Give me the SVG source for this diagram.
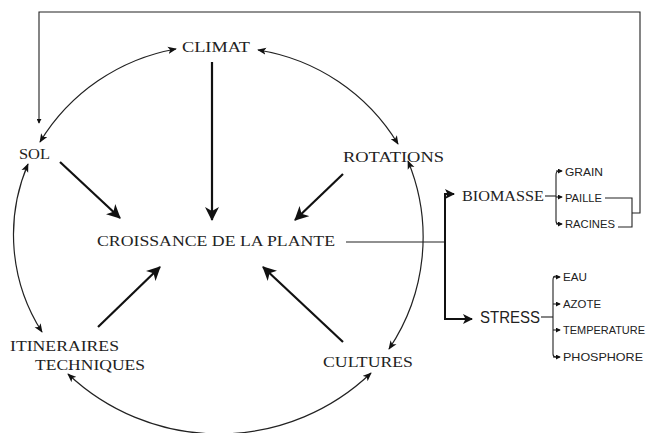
<svg xmlns="http://www.w3.org/2000/svg" width="647" height="433" viewBox="0 0 647 433">
<defs>
<style>
.serif{font-family:"Liberation Serif","DejaVu Serif",serif;font-size:15px;fill:#222}
.sans{font-family:"Liberation Sans","DejaVu Sans",sans-serif;fill:#222}
.small{font-size:10.5px}
.arc{fill:none;stroke:#222;stroke-width:1.2;marker-start:url(#sm);marker-end:url(#sm)}
.big{fill:none;stroke:#111;stroke-width:2.2;marker-end:url(#bg)}
.ln{fill:none;stroke:#222;stroke-width:1.1}
.thick{fill:none;stroke:#111;stroke-width:2}
</style>
<marker id="sm" viewBox="0 0 10 8" refX="9" refY="4" markerWidth="9" markerHeight="8" orient="auto-start-reverse" markerUnits="userSpaceOnUse"><path d="M0,0 L10,4 L0,8 L2.5,4 z" fill="#111"/></marker>
<marker id="bg" viewBox="0 0 14 14" refX="13" refY="7" markerWidth="14" markerHeight="14" orient="auto" markerUnits="userSpaceOnUse"><path d="M0,0 L14,7 L0,14 L4,7 z" fill="#111"/></marker>
<marker id="md" viewBox="0 0 10 10" refX="9" refY="5" markerWidth="10" markerHeight="10" orient="auto" markerUnits="userSpaceOnUse"><path d="M0,0 L10,5 L0,10 L2.5,5 z" fill="#111"/></marker>
<marker id="tk" viewBox="0 0 6 6" refX="5" refY="3" markerWidth="5" markerHeight="5" orient="auto" markerUnits="userSpaceOnUse"><path d="M0,0 L6,3 L0,6 z" fill="#111"/></marker>
</defs>
<rect width="647" height="433" fill="#fff"/>
<g id="connectors">
<path class="arc" d="M40,142 A200,200 0 0 1 176,49"/>
<path class="arc" d="M258,50 A200,200 0 0 1 398,144"/>
<path class="arc" d="M408,161 A200,200 0 0 1 389,349"/>
<path class="arc" d="M371,373 A220,220 0 0 1 68,374"/>
<path class="arc" d="M42,332 A180,180 0 0 1 28,164"/>
<line class="big" x1="212" y1="62" x2="212" y2="220"/>
<line class="big" x1="60" y1="162" x2="120" y2="218"/>
<line class="big" x1="343" y1="174" x2="295" y2="220"/>
<line class="big" x1="98" y1="327" x2="160" y2="267"/>
<line class="big" x1="343" y1="342" x2="263" y2="267"/>
<path class="ln" d="M346,242 H445"/>
<path class="thick" d="M445,319 V194 H454" marker-end="url(#md)"/>
<path class="thick" d="M445,242 V319 H472" marker-end="url(#md)"/>
<path class="ln" d="M545,196 H556"/>
<path class="ln" d="M559,171 Q556,171 556,175 V221 Q556,224 559,224"/>
<path class="ln" d="M556,171 H562" marker-end="url(#tk)"/>
<path class="ln" d="M556,197 H562" marker-end="url(#tk)"/>
<path class="ln" d="M556,224 H562" marker-end="url(#tk)"/>
<path class="ln" d="M541,317 H553"/>
<path class="ln" d="M556,276 Q553,276 553,280 V354 Q553,357 556,357"/>
<path class="ln" d="M553,277 H560" marker-end="url(#tk)"/>
<path class="ln" d="M553,304 H560" marker-end="url(#tk)"/>
<path class="ln" d="M553,330 H560" marker-end="url(#tk)"/>
<path class="ln" d="M553,357 H560" marker-end="url(#tk)"/>
<path class="ln" d="M605,198 H632 V227 H618"/>
<path class="ln" d="M632,213 H640 V12 H39 V123" marker-end="url(#tk)"/>
</g>
<g id="climat"><text class="serif" x="182" y="52" textLength="68" lengthAdjust="spacingAndGlyphs">CLIMAT</text></g>
<g id="sol"><text class="serif" x="19" y="159" textLength="31" lengthAdjust="spacingAndGlyphs">SOL</text></g>
<g id="rotations"><text class="serif" x="343" y="162" textLength="101" lengthAdjust="spacingAndGlyphs">ROTATIONS</text></g>
<g id="croissance"><text class="serif" x="97" y="246" textLength="238" lengthAdjust="spacingAndGlyphs">CROISSANCE DE LA PLANTE</text></g>
<g id="itineraires"><text class="serif" x="10" y="351" textLength="109" lengthAdjust="spacingAndGlyphs">ITINERAIRES</text><text class="serif" x="35" y="370" textLength="110" lengthAdjust="spacingAndGlyphs">TECHNIQUES</text></g>
<g id="cultures"><text class="serif" x="323" y="367" textLength="90" lengthAdjust="spacingAndGlyphs">CULTURES</text></g>
<g id="biomasse"><text class="serif" x="462" y="201" textLength="82" lengthAdjust="spacingAndGlyphs">BIOMASSE</text></g>
<g id="stress"><text class="sans" style="font-size:16px" x="480" y="323" textLength="60" lengthAdjust="spacingAndGlyphs">STRESS</text></g>
<g id="grain"><text class="sans small" x="565" y="176" textLength="38" lengthAdjust="spacingAndGlyphs">GRAIN</text></g>
<g id="paille"><text class="sans small" x="565" y="202" textLength="37" lengthAdjust="spacingAndGlyphs">PAILLE</text></g>
<g id="racines"><text class="sans small" x="565" y="228" textLength="50" lengthAdjust="spacingAndGlyphs">RACINES</text></g>
<g id="eau"><text class="sans small" x="563" y="281" textLength="24" lengthAdjust="spacingAndGlyphs">EAU</text></g>
<g id="azote"><text class="sans small" x="563" y="308" textLength="38" lengthAdjust="spacingAndGlyphs">AZOTE</text></g>
<g id="temperature"><text class="sans small" x="563" y="334" textLength="82" lengthAdjust="spacingAndGlyphs">TEMPERATURE</text></g>
<g id="phosphore"><text class="sans small" x="563" y="361" textLength="80" lengthAdjust="spacingAndGlyphs">PHOSPHORE</text></g>
</svg>
